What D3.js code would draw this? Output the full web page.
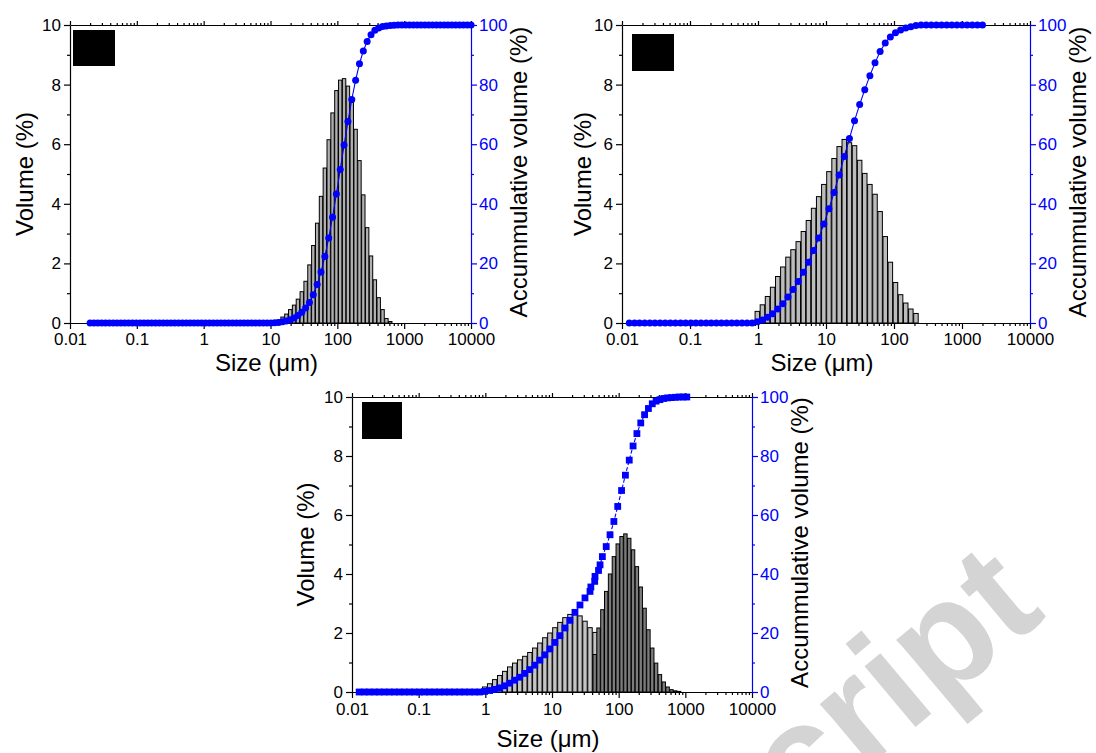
<!DOCTYPE html>
<html><head><meta charset="utf-8">
<script src="https://cdn.jsdelivr.net/npm/d3@7"></script>
<style>
body{margin:0;background:#fff}
svg{display:block}
text{font-family:"Liberation Sans",Arial,Helvetica,sans-serif}
</style>
</head><body>
<svg id="c" width="1096" height="753"></svg>
<script>
// ---------------- DATA ----------------
const xTickVals = [0.01, 0.1, 1, 10, 100, 1000, 10000];
const xTickLabels = ["0.01", "0.1", "1", "10", "100", "1000", "10000"];
const yTickVals = [0, 2, 4, 6, 8, 10];
const yMinorVals = [1, 3, 5, 7, 9];
const y2TickVals = [0, 20, 40, 60, 80, 100];
const y2MinorVals = [10, 30, 50, 70, 90];

// Panel A (top-left): size grid and accumulated volume
const sizesA = [0.02,0.02284,0.02607,0.02977,0.03399,0.03881,0.04431,0.05059,0.05776,0.06595,
  0.0753,0.08597,0.09816,0.1121,0.128,0.1461,0.1668,0.1905,0.2175,0.2483,
  0.2835,0.3237,0.3696,0.422,0.4818,0.5501,0.6281,0.7171,0.8188,0.9348,
  1.067,1.219,1.391,1.589,1.814,2.071,2.365,2.7,3.083,3.52,
  4.018,4.588,5.238,5.981,6.829,7.797,8.902,10.16,11.61,13.25,
  15.13,17.27,19.72,22.52,25.71,29.36,33.52,38.27,43.69,49.89,
  56.96,65.03,74.25,84.78,96.79,110.5,126.2,144.1,164.5,187.8,
  214.4,244.8,279.5,319.2,364.4,416.1,475.1,542.4,619.3,707.1,
  807.3,921.8,1052,1202,1372,1567,1789,2042,2332,2662,
  3040,3471,3963,4524,5166,5898,6734,7689,8779,10020];
const cumA = [0,0,0,0,0,0,0,0,0,0, 0,0,0,0,0,0,0,0,0,0, 0,0,0,0,0,0,0,0,0,0,
  0,0,0,0,0,0,0,0,0,0, 0,0,0,0,0,0,0,
  0.0,0.1,0.2,0.4,0.7,1.1,1.7,2.5,3.6,5.0,6.9,9.5,12.9,17.1,22.3,28.5,
  35.5,43.3,51.5,59.7,67.6,75.0,81.5,87.0,91.3,94.5,96.7,98.2,99.0,99.5,99.7,99.8,
  99.9,100,100,100,100,100,100,100,100,100,100,100,100,100,100,100,100,100,100,100,100];
const barSizesA = [10.16,11.61,13.25,15.13,17.27,19.72,22.52,25.71,29.36,33.52,38.27,43.69,
  49.89,56.96,65.03,74.25,84.78,96.79,110.5,126.2,144.1,164.5,187.8,214.4,244.8,279.5,
  319.2,364.4,416.1,475.1,542.4,619.3];
const volA = [0.02,0.05,0.1,0.2,0.3,0.45,0.6,0.8,1.05,1.4,1.95,2.6,3.35,4.25,5.2,6.15,
  7.05,7.8,8.15,8.2,7.95,7.4,6.5,5.45,4.3,3.2,2.25,1.45,0.85,0.45,0.15,0.05];

// Panel B (top-right)
const sizesB = [0.0128,0.0153,0.0181,0.0216,0.0257,0.0305,0.0363,0.0432,0.0513,0.061,
  0.0726,0.0863,0.103,0.122,0.145,0.173,0.205,0.244,0.29,0.345,
  0.411,0.488,0.581,0.691,0.821,0.977,1.161,1.381,1.642,1.953,
  2.32,2.76,3.28,3.91,4.65,5.52,6.57,7.81,9.29,11.05,
  13.14,15.63,18.58,22.1,26.28,31.25,37.16,44.19,52.56,62.5,
  74.32,88.39,105.1,125,148.7,176.8,210.2,250,297.3,353.6,
  420.4,500,594.6,707.1,840.9,1000,1189,1414,1682,2000];
const cumB = [0,0,0,0,0,0,0,0,0,0, 0,0,0,0,0,0,0,0,0,0, 0,0,0,0,0,
  0.4,1.0,1.9,3.1,4.7,6.5,8.7,11.2,13.9,17.0,20.4,24.3,28.5,33.2,38.3,43.8,
  49.7,55.9,61.9,67.9,73.3,78.3,83.0,87.3,91.1,94.0,96.0,97.4,98.3,99.0,99.4,99.8,
  100,100,100,100,100,100,100,100,100,100,100,100,100];
const barSizesB = [0.977,1.161,1.381,1.642,1.953,2.32,2.76,3.28,3.91,4.65,5.52,6.57,7.81,
  9.29,11.05,13.14,15.63,18.58,22.1,26.28,31.25,37.16,44.19,52.56,62.5,74.32,88.39,
  105.1,125,148.7,176.8,210.2];
const volB = [0.39,0.61,0.89,1.2,1.56,1.88,2.21,2.46,2.73,3.07,3.44,3.85,4.24,4.65,5.08,
  5.52,5.92,6.16,6.05,5.95,5.46,5.02,4.65,4.32,3.74,2.9,2.04,1.36,0.95,0.67,0.47,0.32];

// Panel C (bottom): mixture
const sizesC = [0.0128,0.0153,0.0181,0.0216,0.0257,0.0305,0.0363,0.0432,0.0513,0.061,
  0.0726,0.0863,0.103,0.122,0.145,0.173,0.205,0.244,0.29,0.345,
  0.411,0.488,0.581,0.691,0.821,
  0.977,1.161,1.381,1.642,1.953,2.32,2.76,3.28,3.91,4.65,5.52,6.57,7.81,9.29,11.05,
  13.14,15.63,18.58,22.1,26.28,31.25,37.16,
  38.27,43.69,44.19,49.89,52.56,
  56.96,65.03,74.25,84.78,96.79,110.5,126.2,144.1,164.5,187.8,214.4,244.8,279.5,
  319.2,364.4,416.1,475.1,542.4,619.3,707.1,807.3,921.8,1052];
const cumC = [0,0,0,0,0,0,0,0,0,0, 0,0,0,0,0,0,0,0,0,0, 0,0,0,0,0,
  0.2,0.5,0.9,1.4,2.1,3.0,4.0,5.0,6.3,7.6,9.1,10.8,12.6,14.6,16.8,
  19.1,21.7,24.3,27.0,29.5,31.9,34.1,
  35.6,37.5,39.2,41.2,43.1,
  45.9,49.3,53.3,57.8,62.9,68.3,73.5,78.6,83.4,87.6,91.2,94.0,96.1,
  97.7,98.6,99.1,99.5,99.7,99.8,99.9,100,100,100];
const barSizesC1 = [0.977,1.161,1.381,1.642,1.953,2.32,2.76,3.28,3.91,4.65,5.52,6.57,7.81,
  9.29,11.05,13.14,15.63,18.58,22.1,26.28,31.25,37.16,44.19];
const volC1 = [0.17,0.28,0.42,0.56,0.7,0.85,0.98,1.09,1.21,1.34,1.49,1.66,1.84,2.0,2.18,
  2.36,2.52,2.63,2.68,2.58,2.4,2.18,2.02];
const barSizesC2 = [43.69,49.89,56.96,65.03,74.25,84.78,96.79,110.5,126.2,144.1,164.5,187.8,
  214.4,244.8,279.5,319.2,364.4,416.1,475.1,542.4,619.3,707.1,807.3];
const volC2 = [1.27,2.17,2.79,3.41,4.0,4.59,5.02,5.27,5.36,5.21,4.82,4.25,3.56,2.84,2.11,
  1.49,0.98,0.59,0.34,0.17,0.08,0.04,0.02];

const yTitle = "Volume (%)";
const y2Title = "Accummulative volume (%)";
const xTitle = "Size (\u03bcm)";

// ---------------- DRAW ----------------
const svg = d3.select('#c');
const BLUE = '#0000ff';

// watermark (behind everything)
svg.append('text').text('Script')
  .attr('transform','translate(1048,616) rotate(-40)')
  .attr('text-anchor','end')
  .attr('font-size',150).attr('font-weight','bold')
  .attr('fill','#d4d4d4');

const minorX = [];
xTickVals.slice(0,-1).forEach(d => { for (let m = 2; m <= 9; m++) minorX.push(d*m); });

function panel(cfg){
  const g = svg.append('g');
  const x = d3.scaleLog().domain([0.01, 10000]).range([cfg.x0, cfg.x1]);
  const y = d3.scaleLinear().domain([0, 10]).range([cfg.y1, cfg.y0]);
  const y2 = d3.scaleLinear().domain([0, 100]).range([cfg.y1, cfg.y0]);

  const ax = (gen, tr, col) => g.append('g').attr('transform', tr).attr('color', col)
      .call(gen).call(s => s.selectAll('path,line').attr('stroke-width', 1.2));
  // bottom
  const gb = ax(d3.axisBottom(x).tickValues(xTickVals).tickFormat((d,i)=>xTickLabels[i])
      .tickSize(6).tickSizeOuter(0).tickPadding(cfg.xPad), `translate(0,${cfg.y1})`, '#000');
  gb.selectAll('text').attr('font-size', 17).attr('fill','#000');
  ax(d3.axisBottom(x).tickValues(minorX).tickFormat('').tickSize(3).tickSizeOuter(0),
     `translate(0,${cfg.y1})`, '#000').select('.domain').remove();
  // top
  ax(d3.axisTop(x).tickValues(xTickVals).tickFormat('').tickSize(4).tickSizeOuter(0),
     `translate(0,${cfg.y0})`, '#000');
  ax(d3.axisTop(x).tickValues(minorX).tickFormat('').tickSize(2).tickSizeOuter(0),
     `translate(0,${cfg.y0})`, '#000').select('.domain').remove();
  // left
  const gl = ax(d3.axisLeft(y).tickValues(yTickVals).tickSize(6).tickSizeOuter(0).tickPadding(3),
     `translate(${cfg.x0},0)`, '#000');
  gl.selectAll('text').attr('font-size', 17);
  ax(d3.axisLeft(y).tickValues(yMinorVals).tickFormat('').tickSize(3).tickSizeOuter(0),
     `translate(${cfg.x0},0)`, '#000').select('.domain').remove();
  // right (blue)
  const gr = ax(d3.axisRight(y2).tickValues(y2TickVals).tickSize(6).tickSizeOuter(0).tickPadding(2),
     `translate(${cfg.x1},0)`, BLUE);
  gr.selectAll('text').attr('font-size', 17);
  ax(d3.axisRight(y2).tickValues(y2MinorVals).tickFormat('').tickSize(3).tickSizeOuter(0),
     `translate(${cfg.x1},0)`, BLUE).select('.domain').remove();

  // bars
  cfg.bars.forEach(b => {
    const px = b.sizes.map(s => x(s));
    const w = i => { const j = Math.min(i, px.length - 2); return (px[j+1] - px[j]) * 0.88; };
    g.append('g').selectAll('rect').data(b.sizes).join('rect')
      .attr('x', (d,i) => px[i] - w(i)/2).attr('width', (d,i) => w(i))
      .attr('y', (d,i) => y(b.vals[i])).attr('height', (d,i) => y(0) - y(b.vals[i]))
      .attr('fill', b.fill).attr('stroke', '#000').attr('stroke-width', 1);
  });

  // cumulative
  const pts = cfg.cumSizes.map((s,i) => [s, cfg.cum[i]]);
  g.append('path').datum(pts)
    .attr('d', d3.line().x(d => x(d[0])).y(d => y2(d[1])))
    .attr('fill','none').attr('stroke', BLUE).attr('stroke-width', 1.1)
    .attr('stroke-dasharray', cfg.square ? '4,2' : null);
  if (cfg.square) {
    g.append('g').selectAll('rect').data(pts).join('rect')
      .attr('x', d => x(d[0]) - 3.4).attr('y', d => y2(d[1]) - 3.4)
      .attr('width', 6.8).attr('height', 6.8).attr('fill', BLUE);
  } else {
    g.append('g').selectAll('circle').data(pts).join('circle')
      .attr('cx', d => x(d[0])).attr('cy', d => y2(d[1])).attr('r', 3.5).attr('fill', BLUE);
  }

  // redacted label box
  g.append('rect').attr('x', cfg.box[0]).attr('y', cfg.box[1])
    .attr('width', cfg.box[2]).attr('height', cfg.box[3]).attr('fill', '#000');

  // titles
  const yc = (cfg.y0 + cfg.y1) / 2;
  g.append('text').text(yTitle).attr('font-size', 24).attr('text-anchor', 'middle')
    .attr('transform', `translate(${cfg.x0 - cfg.yOff},${yc}) rotate(-90)`).attr('dy', '0.35em');
  g.append('text').text(y2Title).attr('font-size', 24).attr('text-anchor', 'middle')
    .attr('transform', `translate(${cfg.x1 + 48},${yc - 2}) rotate(-90)`).attr('dy', '0.35em');
  g.append('text').text(xTitle).attr('font-size', 24).attr('text-anchor', 'middle')
    .attr('x', (cfg.x0 + cfg.x1) / 2 - 4).attr('y', cfg.y1 + cfg.xOff);
}

panel({x0:70, x1:471, y0:25, y1:323, box:[73,30,42,36], yOff:45, xOff:48, xPad:4,
  bars:[{sizes:barSizesA, vals:volA, fill:'#b0b0b0'}],
  cumSizes:sizesA, cum:cumA, square:false});
panel({x0:622, x1:1030, y0:25, y1:323, box:[632,34,42,37], yOff:39, xOff:48, xPad:4,
  bars:[{sizes:barSizesB, vals:volB, fill:'#bcbcbc'}],
  cumSizes:sizesB, cum:cumB, square:false});
panel({x0:352, x1:752, y0:397, y1:692, box:[362,402,40,37], yOff:46, xOff:55, xPad:5,
  bars:[{sizes:barSizesC1, vals:volC1, fill:'#c4c4c4'},{sizes:barSizesC2, vals:volC2, fill:'#7c7c7c'}],
  cumSizes:sizesC, cum:cumC, square:true});
</script>
</body></html>
